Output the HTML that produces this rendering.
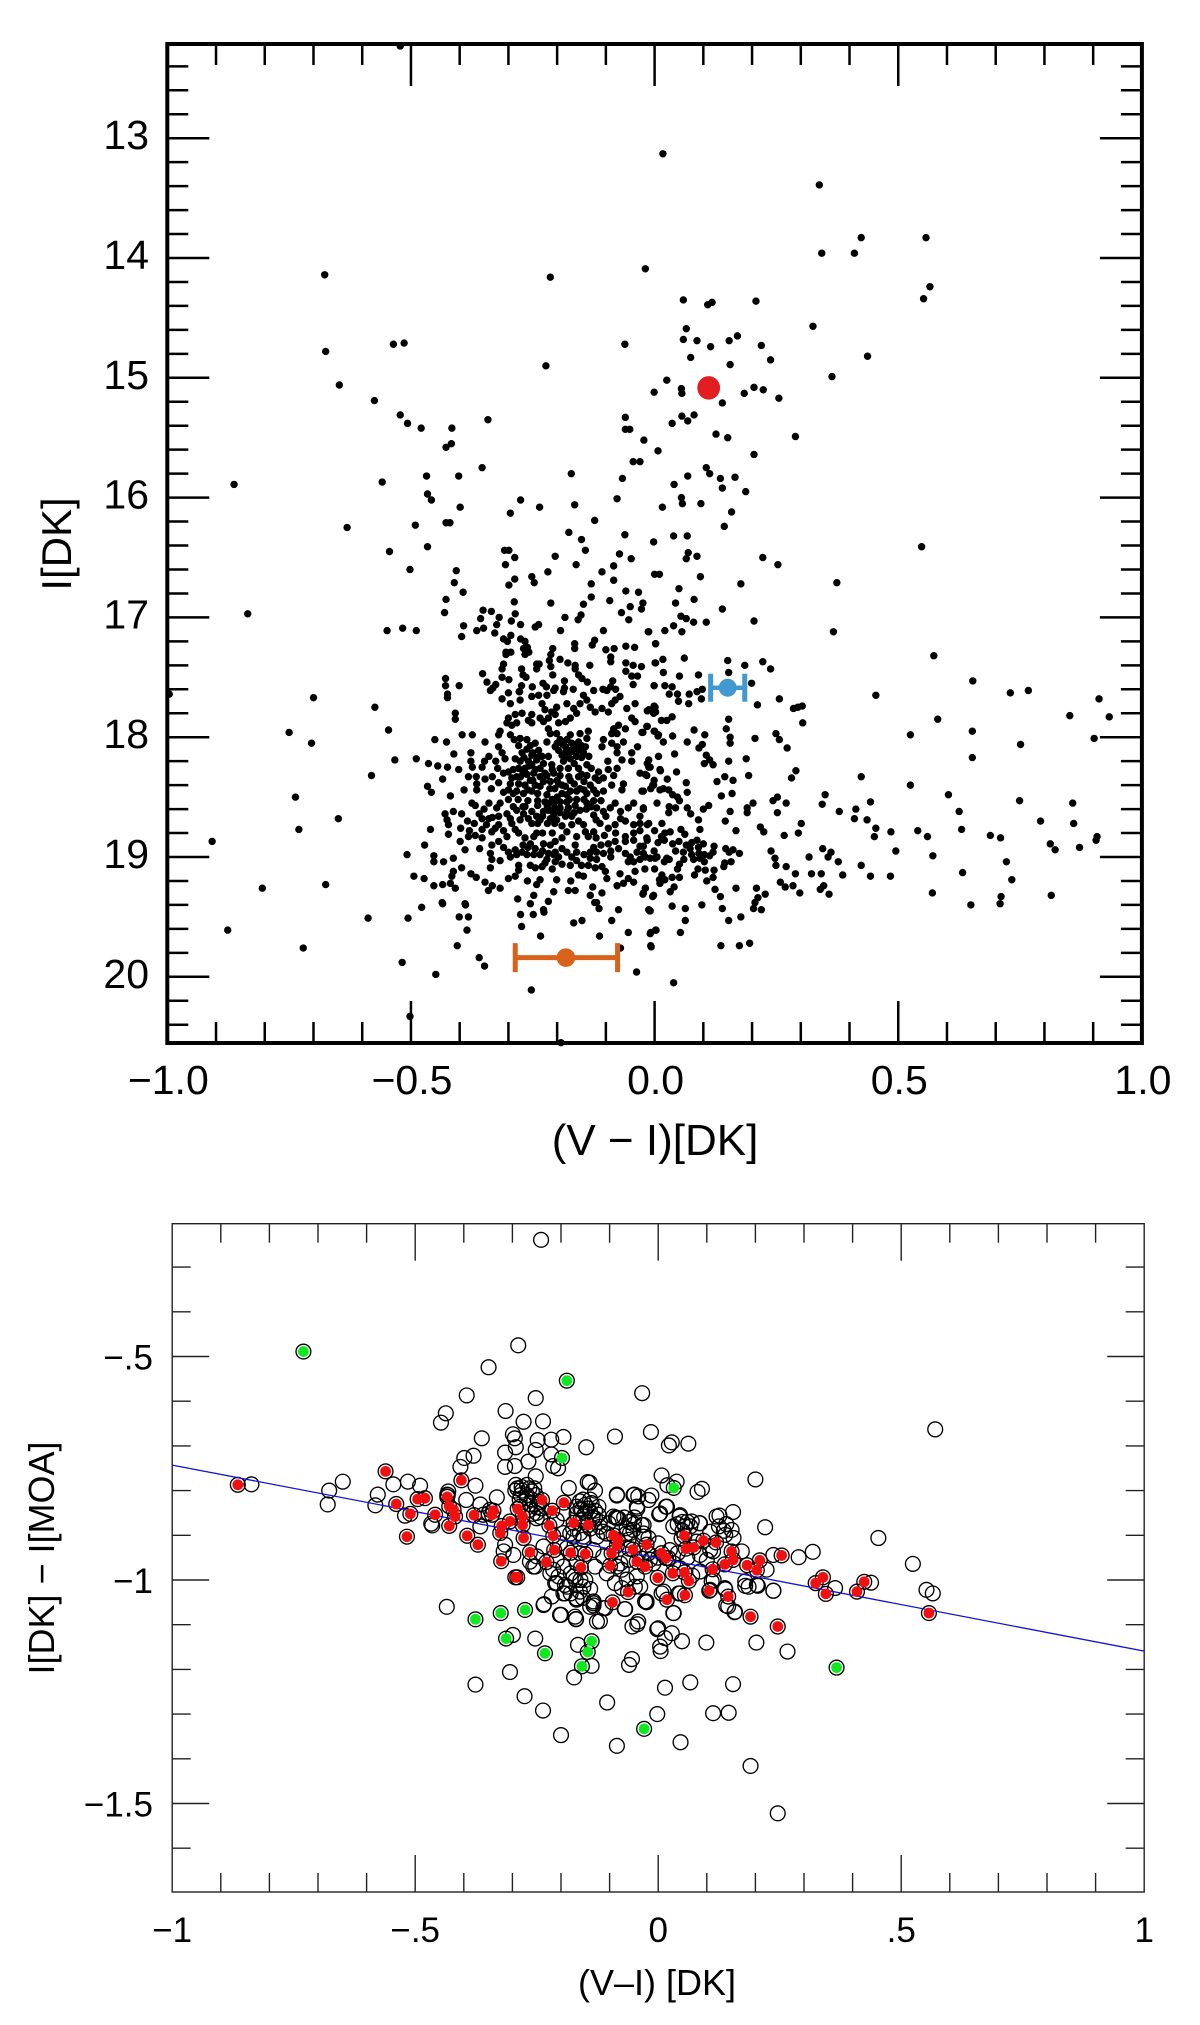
<!DOCTYPE html>
<html lang="en">
<head>
<meta charset="utf-8">
<title>Colour-magnitude diagram and calibration</title>
<style>
html,body{margin:0;padding:0;background:#fff;}
svg{display:block;}
text{font-family:"Liberation Sans",sans-serif;fill:#000;}
</style>
</head>
<body>
<svg id="figure" xmlns="http://www.w3.org/2000/svg" width="1200" height="2025" viewBox="0 0 1200 2025">
  <rect x="0" y="0" width="1200" height="2025" fill="#fff"/>
  <g id="cmd"></g>
  <g id="moa"></g>
</svg>
<script>
// ---------- top panel data: [(V-I), I] ----------
const cmdXTickValues = [-1, -0.5, 0, 0.5, 1];
const cmdXTickLabels = ['\u22121.0', '\u22120.5', '0.0', '0.5', '1.0'];
const cmdYTickValues = [13, 14, 15, 16, 17, 18, 19, 20];
const cmdYTickLabels = ['13', '14', '15', '16', '17', '18', '19', '20'];
const sourcePoint = [0.111, 15.084];
const blueCentroid = [0.150, 17.587];
const blueCentroidRange = [0.115, 0.185];
const orangeCentroid = [-0.182, 19.84];
const orangeCentroidRange = [-0.286, -0.076];
const cmdStars = [
[-.522,12.23],[-.677,14.14],[-.214,14.16],[-.536,14.72],[-.514,14.71],[-.675,14.78],[-.223,14.90],[-.647,15.06],[-.575,15.19],[-.522,15.31],[-.507,15.38],[-.479,15.42],[-.416,15.42],[-.342,15.35],[-.417,15.55],[-.428,15.58],[-.354,15.75],[-.171,15.80],[-.468,15.82],[-.402,15.82],[-.559,15.87],[-.863,15.89],[-.466,15.97],[-.458,16.02],[-.275,16.02],[-.236,16.08],[-.399,16.08],[-.164,16.06],[-.296,16.13],[-.123,16.19],[-.631,16.25],[-.491,16.23],[-.428,16.21],[-.420,16.21],[-.176,16.29],[-.150,16.35],[-.466,16.41],[-.544,16.45],[-.308,16.44],[-.299,16.44],[-.142,16.44],[-.287,16.50],[-.204,16.49],
[.017,13.13],[.338,13.39],[.424,13.83],[.557,13.83],[.343,13.96],[.410,13.96],[-.019,14.09],[.565,14.24],[.552,14.34],[.059,14.35],[.118,14.37],[.109,14.39],[.208,14.36],[.325,14.57],[.065,14.59],[.059,14.68],[.087,14.69],[.153,14.69],[.170,14.65],[-.061,14.72],[.115,14.74],[.219,14.73],[.437,14.82],[.074,14.83],[.238,14.85],[.155,14.89],[.364,14.99],[.025,15.02],[.055,15.09],[.056,15.13],[-.001,15.12],[.184,15.13],[.204,15.08],[.223,15.10],[.255,15.17],[.139,15.21],[-.060,15.33],[.056,15.32],[.081,15.31],[.068,15.36],[.036,15.38],[-.060,15.43],[-.051,15.43],[.126,15.47],[.150,15.50],[.289,15.49],[-.022,15.52],[.007,15.61],[.204,15.64],[-.044,15.70],[-.030,15.70],[.106,15.75],[.113,15.80],[.068,15.82],[.135,15.84],[.165,15.83],[-.066,15.84],[.040,15.89],[.139,15.92],[.187,15.95],[-.077,16.01],[.055,16.00],[.057,16.05],[.095,16.05],[.016,16.08],[.158,16.12],[.143,16.24],[-.061,16.31],[.039,16.32],[.067,16.32],[-.002,16.37],[.548,16.41],[.069,16.46],[.087,16.49],[-.072,16.47],[-.048,16.51],[.222,16.50],[.065,16.51],
[-.502,16.60],[-.407,16.61],[-.306,16.56],[-.219,16.62],[-.161,16.56],[-.108,16.62],[-.084,16.57],[0,16.64],[-.411,16.71],[-.287,16.68],[-.252,16.66],[-.247,16.71],[-.299,16.73],[-.130,16.72],[-.084,16.69],[-.393,16.79],[-.059,16.78],[-.033,16.79],[-.130,16.83],[-.428,16.85],[-.288,16.87],[-.213,16.88],[-.146,16.89],[-.092,16.86],[-.050,16.91],[-.024,16.88],[-.027,16.93],[-.835,16.97],[-.431,16.96],[-.352,16.94],[-.335,16.95],[-.068,16.96],[-.286,16.97],[-.319,17.00],[-.357,17.01],[-.294,17.03],[-.151,16.98],[-.157,17.02],[-.184,17.0],[-.053,17.02],[-.275,17.06],[-.392,17.07],[-.324,17.06],[-.245,17.08],[-.238,17.06],[-.351,17.09],[-.365,17.11],[-.328,17.13],[-.549,17.11],[-.517,17.09],[-.489,17.11],[-.193,17.11],[-.105,17.11],[-.012,17.12],[-.396,17.16],[-.295,17.15],[-.310,17.18],[-.302,17.20],[-.275,17.18],[-.266,17.20],[-.261,17.25],[-.123,17.19],[-.128,17.23],[-.164,17.22],[-.164,17.26],[.002,17.22],[-.059,17.24],[-.041,17.25],[-.100,17.27],[-.083,17.26],[-.209,17.26],[-.213,17.31],[-.216,17.36],[-.213,17.41],[-.305,17.29],[-.295,17.29],[-.305,17.31],[-.269,17.26],[-.258,17.29],[-.266,17.31],[-.090,17.33],[-.090,17.37],[-.194,17.35],[-.178,17.38],[-.163,17.40],[-.242,17.39],[-.237,17.39],[-.242,17.43],[-.310,17.39],[-.313,17.43],[-.059,17.38],[-.044,17.40],[-.027,17.41],[.002,17.38],[-.133,17.40],[-.059,17.45],[-.047,17.49],[-.035,17.49],[-.273,17.43],[-.270,17.48],[-.264,17.50],[-.163,17.43],[-.353,17.47],[-.209,17.48],[-.156,17.48],[-.149,17.51],[-.138,17.54],[-.429,17.51],[-.344,17.54],[-.313,17.50],[-.326,17.56],[-.299,17.52],[-.185,17.53],[-.229,17.55],[-.222,17.58],[-.204,17.59],[-.185,17.59],[-.167,17.60],[-.086,17.53],[-.044,17.56],[-.001,17.57],[-.429,17.57],[-.401,17.57],[-.273,17.57],[-.277,17.62],[-.251,17.58],[-.332,17.59],[-.106,17.60],[-.090,17.58],[-.080,17.60],[-.125,17.61],[-.700,17.67],[-.425,17.64],[-.996,17.64],
[-.750,17.96],[-.704,18.05],[-.574,17.75],[-.546,17.94],[-.451,18.02],[-.533,18.19],[-.489,18.18],[-.464,18.22],[-.445,18.24],[-.581,18.32],[-.466,18.41],[-.458,18.46],[-.737,18.50],[-.649,18.68],[-.730,18.77],[-.460,18.77],[-.472,18.90],[-.508,18.98],[-.908,18.87],[-.453,18.99],[-.453,19.04],[-.494,19.16],[-.473,19.18],[-.453,19.24],[-.675,19.23],[-.805,19.26],[-.478,19.42],[-.436,19.38],[-.506,19.51],[-.588,19.51],[-.876,19.61],[-.721,19.76],[-.518,19.88],[-.449,19.98],[-.502,20.33],
[-.388,19.40],[-.275,19.48],[-.249,19.48],[-.227,19.46],[-.401,19.50],[-.382,19.50],[-.273,19.58],[-.385,19.61],[-.166,19.55],[-.149,19.53],[-.234,19.66],[-.113,19.66],[-.088,19.53],[-.074,19.44],[-.054,19.63],[-.405,19.74],[-.360,19.84],[-.349,19.91],[-.070,19.76],[-.037,19.96],[-.253,20.11],[-.008,19.63],[.002,19.61],[-.007,19.75],[-.009,19.45],[-.114,19.43],[-.123,19.38],[-.192,20.55],
[-.425,17.67],[-.409,17.80],[-.409,17.85],[-.395,17.98],[-.374,17.98],[-.427,18.04],[-.348,18.04],[-.412,18.14],[-.377,18.13],[-.425,18.25],[-.402,18.27],[-.435,18.35],[-.377,18.20],[-.374,18.25],[-.354,18.25],[-.340,18.16],[-.349,18.20],[-.326,18.20],[-.322,18.26],[-.382,18.33],[-.366,18.33],[-.348,18.35],[-.333,18.33],[-.365,18.39],[-.365,18.44],[-.391,18.44],[-.419,18.49],[-.310,18.46],[-.337,17.61],[-.300,17.63],[-.313,17.68],[-.296,17.72],[-.276,17.69],[-.278,17.62],[-.252,17.66],[-.238,17.65],[-.221,17.65],[-.207,17.61],[-.187,17.62],[-.180,17.72],[-.231,17.72],[-.225,17.77],[-.211,17.79],[-.201,17.75],[-.204,17.81],[-.218,17.84],[-.228,17.87],[-.235,17.84],[-.252,17.81],[-.272,17.80],[-.286,17.81],[-.300,17.84],[-.303,17.88],[-.293,17.90],[-.283,17.88],[-.259,17.86],[-.252,17.88],[-.197,17.88],[-.183,17.87],[-.173,17.84],[-.160,17.80],[-.166,17.76],[-.153,17.72],[-.146,17.65],[-.139,17.69],[-.132,17.75],[-.122,17.79],[-.108,17.76],[-.095,17.79],[-.088,17.72],[-.071,17.66],[-.057,17.76],[-.040,17.72],[-.012,17.77],[.001,17.75],[-.002,17.80],[-.047,17.84],[-.040,17.87],[-.074,17.90],[-.084,17.93],[-.060,17.93],[-.088,17.97],[-.077,17.97],[-.016,17.91],[-.026,17.96],[0,17.95],[.008,17.98],[-.317,17.95],[-.320,17.98],[-.320,18.08],[-.313,18.13],[-.307,18.18],[-.286,18.18],[-.296,17.98],[-.288,18.02],[-.276,18.01],[-.279,18.07],[-.272,18.13],[-.262,18.02],[-.255,18.07],[-.245,18.05],[-.238,18.11],[-.252,18.15],[-.259,18.20],[-.276,18.20],[-.279,18.26],[-.266,18.26],[-.252,18.23],[-.242,18.19],[-.231,18.16],[-.235,18.26],[-.248,18.30],[-.218,17.93],[-.214,17.97],[-.201,17.97],[-.221,18.04],[-.194,18.02],[-.180,18.02],[-.173,17.98],[-.153,17.97],[-.136,17.95],[-.139,18.01],[-.156,18.04],[-.170,18.05],[-.183,18.08],[-.197,18.11],[-.204,18.08],[-.183,18.13],[-.170,18.12],[-.156,18.11],[-.142,18.08],[-.146,18.13],[-.160,18.16],[-.173,18.18],[-.187,18.20],[-.194,18.26],[-.211,18.23],[-.207,18.30],[-.221,18.32],[-.194,18.32],[-.177,18.26],[-.156,18.26],[-.139,18.23],[-.105,18.02],[-.108,18.08],[-.088,18.05],[-.077,18.08],[-.064,18.04],[-.077,18.13],[-.047,18.13],[-.035,18.08],[-.012,18.19],[-.009,18.25],[-.047,18.20],[-.067,18.19],[-.096,18.20],[-.095,18.27],[-.077,18.26],[-.084,18.32],[-.115,18.29],[-.105,18.34],[-.139,18.32],[-.122,18.34],[-.132,18.40],[-.156,18.33],[-.173,18.36],[-.183,18.41],[-.197,18.39],[-.214,18.37],[-.228,18.37],[-.235,18.41],[-.255,18.36],[-.245,18.40],[-.266,18.40],[-.279,18.39],[-.300,18.29],[-.293,18.34],[-.283,18.33],[-.296,18.39],[-.283,18.45],[-.269,18.47],[-.252,18.45],[-.221,18.48],[-.190,18.47],[-.173,18.45],[-.153,18.43],[-.139,18.47],[-.119,18.47],[-.105,18.45],[-.088,18.40],[-.064,18.39],[-.067,18.44],[-.030,18.30],[-.016,18.32],[.011,18.27],[-.002,18.40],[-.026,18.45],[.011,18.44],[-.098,17.61],[-.081,17.69],
[-.430,18.64],[-.413,18.62],[-.426,18.69],[-.423,18.73],[-.396,18.64],[-.384,18.70],[-.398,18.76],[-.354,18.68],[-.333,18.67],[-.423,18.81],[-.354,18.77],[-.327,18.76],[-.334,18.79],[-.399,18.87],[-.389,18.94],[-.359,18.93],[-.382,18.83],[-.368,18.82],[-.354,18.84],[-.303,18.83],[-.320,18.87],[-.334,18.90],[-.337,18.97],[-.334,19.02],[-.337,19.09],[-.317,19.03],[-.433,19.04],[-.413,19.01],[-.396,19.09],[-.413,19.12],[-.416,19.16],[-.377,19.14],[-.366,19.17],[-.348,19.21],[-.333,19.24],[-.341,19.28],[-.317,19.26],[-.435,19.23],[-.409,19.26],[-.419,19.22],[-.435,19.39],[-.389,19.39],[-.281,19.35],[-.300,19.18],[-.286,19.16],[-.279,19.07],[-.279,19.11],[-.261,19.20],[-.235,19.19],[-.242,19.23],[-.248,19.32],[-.201,19.19],[-.207,19.29],[-.218,19.37],[-.172,19.20],[-.177,19.28],[-.163,19.28],[-.127,19.25],[-.132,19.32],[-.108,19.30],[-.098,19.18],[-.071,19.14],[-.054,19.18],[-.043,19.21],[-.077,19.24],[-.064,19.22],[-.019,19.26],[-.023,19.30],[-.002,19.32],[-.012,19.44],[.011,19.22],[-.119,19.38],[-.255,19.39],[-.228,19.44],
[-.375,18.55],[-.368,18.57],[-.317,18.55],[-.324,18.59],[-.303,18.64],[-.296,18.68],[-.293,18.72],[-.286,18.77],[-.279,18.80],[-.276,18.69],[-.283,18.61],[-.269,18.64],[-.266,18.58],[-.252,18.62],[-.259,18.68],[-.252,18.72],[-.242,18.66],[-.235,18.69],[-.228,18.62],[-.218,18.61],[-.207,18.64],[-.194,18.59],[-.177,18.59],[-.163,18.57],[-.153,18.61],[-.139,18.55],[-.125,18.65],[-.156,18.70],[-.170,18.66],[-.183,18.66],[-.201,18.69],[-.214,18.68],[-.221,18.55],[-.207,18.55],[-.194,18.54],[-.180,18.54],[-.119,18.59],[-.105,18.62],[-.091,18.59],[-.081,18.55],[-.054,18.59],[-.043,18.55],[-.023,18.59],[-.146,18.73],[-.112,18.72],[-.142,18.79],[-.125,18.79],[-.136,18.83],[-.081,18.73],[-.095,18.76],[-.043,18.73],[-.030,18.72],[-.012,18.72],[-.103,18.82],[-.242,18.80],[-.248,18.83],[-.266,18.84],[-.255,18.89],[-.245,18.93],[-.204,18.87],[-.214,18.90],[-.228,18.89],[-.204,18.96],[-.190,18.93],[-.180,18.96],[-.163,18.90],[-.160,18.96],[-.170,19.00],[-.173,19.07],[-.197,19.00],[-.207,18.98],[-.218,18.97],[-.235,18.98],[-.248,18.98],[-.272,18.96],[-.286,18.94],[-.296,19.00],[-.283,18.98],[-.262,18.98],[-.221,19.02],[-.231,19.08],[-.245,19.09],[-.255,19.07],[-.204,19.04],[-.132,18.96],[-.119,18.96],[-.105,18.97],[-.132,19.01],[-.119,19.02],[-.136,19.07],[-.122,19.09],[-.108,19.08],[-.101,19.12],[-.095,18.89],[-.081,18.87],[-.074,18.93],[-.060,18.83],[-.060,18.87],[-.043,18.80],[-.043,18.86],[-.016,18.84],[-.030,18.91],[-.036,18.96],[-.023,18.97],[.005,19.00],[-.009,19.01],[-.050,19.00],[-.043,19.04],[-.054,19.04],[-.156,19.15],[-.146,19.16],
[.253,16.56],[.010,16.64],[.094,16.66],[.374,16.71],[.177,16.72],[.050,16.76],[.043,16.88],[.081,16.85],[.139,16.93],[.054,16.99],[.065,17.01],[.080,17.04],[.106,17.04],[.204,17.03],[.039,17.07],[.056,17.12],[.021,17.11],[-.013,17.12],[.367,17.12],[.002,17.22],[.573,17.32],[.061,17.34],[.017,17.35],[.001,17.38],[.150,17.36],[.222,17.37],[.185,17.40],[.238,17.43],[.152,17.46],[.018,17.46],[.051,17.49],[.090,17.48],[.653,17.53],[.199,17.55],[-.001,17.57],[.021,17.57],[.036,17.58],[.730,17.63],[.767,17.61],[.454,17.65],[.030,17.64],[.047,17.64],[.071,17.64],[.087,17.62],[.098,17.60],[.096,17.68],[.256,17.68],[.912,17.68],[.049,17.70],[.070,17.72],[.211,17.73],[.285,17.76],[.294,17.75],[.303,17.74],[-.001,17.74],[-.015,17.78],[.002,17.79],[.152,17.85],[.852,17.82],[.933,17.83],[.581,17.85],[.036,17.83],[.025,17.86],[.014,17.86],[.304,17.88],[-.015,17.91],[-.024,17.96],[-.001,17.95],[.007,17.99],[.081,17.94],[.147,17.93],[.249,17.97],[.256,18.02],[.103,17.98],[.037,17.99],[.652,17.95],[.525,17.98],[.206,18.01],[.155,18.0],[.155,18.05],[.902,18.01],[.018,18.04],[.067,18.04],[.098,18.06],[.091,18.09],[.751,18.06],[.272,18.09],[.008,18.16],[.041,18.14],[.106,18.15],[.113,18.19],[.188,18.18],[.152,18.20],[.652,18.17],[.102,18.22],[.120,18.23],[-.015,18.22],[-.012,18.25],[.012,18.28],[.290,18.28],[.045,18.29],[.281,18.34],[.144,18.33],[.193,18.32],[.424,18.33],[-.019,18.31],[.026,18.35],[.161,18.36],[.128,18.37],[.065,18.38],[-.001,18.36],[-.004,18.40],[-.008,18.43],[.525,18.40],[.018,18.43],[.029,18.44],[.037,18.48],[.047,18.50],[.067,18.46],[-.023,18.45],[.159,18.47],[.137,18.49],[.603,18.48],[.350,18.48],[.252,18.50],[.243,18.53],[.005,18.55],[.051,18.53],[.030,18.58],[.043,18.59],[.029,18.63],[.067,18.59],[.074,18.64],[.111,18.57],[.100,18.60],[.202,18.55],[.190,18.59],[.190,18.63],[.155,18.62],[.270,18.55],[.344,18.56],[.252,18.63],[.443,18.54],[.413,18.60],[.379,18.62],[.625,18.62],[.749,18.53],[.858,18.55],[.410,18.68],[.436,18.69],[.792,18.70],[.860,18.72],[-.023,18.60],[.090,18.69],[.145,18.70],[.301,18.72],[.015,18.72],[-.015,18.73],[.454,18.76],[.630,18.77],[.217,18.75],[.224,18.79],[.167,18.78],[.021,18.80],[.032,18.79],[.014,18.83],[.054,18.77],[.062,18.81],[.093,18.77],[.295,18.80],[.266,18.82],[.485,18.79],[.540,18.78],[.451,18.83],[.560,18.83],[.689,18.82],[.710,18.84],[.908,18.83],[.906,18.86],[.007,18.88],[-.015,18.86],[-.023,18.91],[.037,18.89],[.065,18.90],[.076,18.88],[.087,18.86],[.100,18.89],[.122,18.91],[.812,18.89],[.822,18.94],[.872,18.92],[.345,18.93],[.495,18.95],[.146,18.93],[.161,18.94],[.153,18.96],[.239,18.95],[.174,18.97],[.362,18.96],[.356,19.0],[.571,18.99],[.059,18.96],[.043,18.95],[-.001,18.95],[-.019,19.0],[.001,19.01],[.076,18.98],[.091,18.97],[.102,18.98],[.073,18.93],[.113,18.99],[.247,19.01],[.249,19.07],[.317,19.0],[.093,19.01],[.102,19.04],[.025,19.01],[.020,19.04],[.377,19.04],[.144,19.05],[.157,19.04],[.142,19.08],[.722,19.04],[.051,19.06],[.047,19.10],[.424,19.07],[.270,19.08],[.122,19.11],[.104,19.11],[.089,19.10],[.289,19.14],[.322,19.14],[.342,19.14],[.386,19.15],[.443,19.16],[.484,19.16],[.632,19.13],[.051,19.17],[.036,19.17],[.015,19.15],[.082,19.15],[.120,19.17],[.107,19.20],[.010,19.19],[.021,19.19],[.733,19.19],[.258,19.21],[.268,19.25],[.284,19.24],[.347,19.24],[.340,19.27],[.167,19.26],[.209,19.26],[.124,19.27],[.040,19.25],[.032,19.29],[-.019,19.26],[-.024,19.31],[-.004,19.33],[.298,19.30],[.358,19.31],[.570,19.30],[.814,19.32],[.135,19.33],[.227,19.31],[.212,19.34],[.206,19.38],[.711,19.33],[.709,19.39],[.649,19.40],[.036,19.41],[.097,19.40],[.063,19.43],[.139,19.43],[.203,19.43],[.219,19.44],[-.010,19.45],[.177,19.50],[.152,19.53],[.063,19.53],[.053,19.63],[.003,19.61],[-.009,19.64],[-.008,19.74],[.136,19.74],[.174,19.74],[.195,19.72],[.039,20.05]
];
const cmdCoreStars = [
[-.262,18.10],[-.25,18.13],[-.24,18.17],[-.268,18.17],[-.258,18.24],[-.245,18.27],[-.235,18.33],[-.25,18.36],[-.262,18.31],[-.27,18.29],[-.225,18.30],[-.228,18.22],[-.218,18.16],[-.21,18.27],[-.2,18.36],[-.205,18.43],[-.19,18.40],[-.176,18.33],[-.165,18.39],[-.145,18.37],[-.15,18.31],[-.165,18.22],[-.178,18.16],[-.19,18.15],[-.2,18.05],[-.188,18.06],[-.175,18.11],[-.165,18.08],[-.15,18.07],[-.15,18.17],[-.135,18.16],[-.13,18.26],[-.115,18.36],[-.125,18.44],[-.145,18.44],[-.16,18.45],[-.18,18.48],[-.2,18.5],[-.215,18.43],[-.24,18.47],[-.26,18.44],[-.275,18.33],[-.29,18.27],[-.31,18.30],[-.32,18.38],[-.335,18.43],[-.29,18.47],[-.3,18.44],
[-.24,18.53],[-.225,18.54],[-.21,18.52],[-.175,18.52],[-.16,18.52],[-.145,18.52],[-.125,18.53],[-.11,18.53],[-.26,18.53],[-.28,18.52],[-.30,18.52],[-.24,18.57],[-.22,18.58],[-.205,18.59],[-.18,18.62],[-.165,18.63],[-.14,18.6],[-.13,18.58],[-.195,18.63],[-.23,18.66],[-.27,18.58],[-.29,18.58],[-.24,18.72],[-.22,18.72],[-.205,18.72],[-.19,18.74],[-.17,18.73],[-.12,18.69],[-.1,18.66],[-.07,18.62],[-.07,18.68],[-.06,18.7],[-.03,18.66],[-.03,18.78],[-.18,18.79],[-.21,18.80],[-.23,18.8],[-.12,18.84],[-.16,18.83],[-.19,18.84],[-.08,18.8],[-.34,18.55],[-.35,18.6],[-.36,18.64],[-.34,18.68],[-.32,18.66],[-.32,18.73],[-.31,18.78],[-.345,18.73],[-.37,18.72],[-.38,18.78],
[-.3,18.96],[-.31,18.92],[-.27,18.90],[-.26,18.92],[-.23,18.95],[-.225,19.05],[-.21,19.1],[-.19,19.06],[-.16,19.03],[-.15,19.07],[-.145,18.98],[-.125,18.92],[-.11,18.9],[-.09,18.95],[-.09,19.0],[-.06,18.97],[-.03,19.02],[-.02,19.1],[-.04,19.12],[0,19.1],[.03,19.02],[.06,19.02],[.08,19.02],[0,18.78],[.02,18.86],[.05,18.87],[.09,18.92],[.12,18.96]
];

// ---------- bottom panel data: [(V-I), I[DK]-I[MOA]] ----------
const moaXTickValues = [-1, -0.5, 0, 0.5, 1];
const moaXTickLabels = ['\u22121', '\u2212.5', '0', '.5', '1'];
const moaYTickValues = [-0.5, -1, -1.5];
const moaYTickLabels = ['\u2212.5', '\u22121', '\u22121.5'];
const fitLineX = [-1, 1];
const fitLineY = [-0.743, -1.159];
const moaOpen = [
[-.241,-.239],[-.288,-.475],[-.349,-.524],[-.394,-.587],[-.252,-.593],[-.314,-.622],[-.437,-.627],[-.447,-.648],[-.277,-.646],[-.237,-.645],[-.363,-.683],[-.299,-.674],[-.295,-.683],[-.248,-.687],[-.220,-.686],[-.195,-.680],[-.148,-.703],[-.315,-.715],[-.293,-.703],[-.252,-.709],[-.220,-.719],[-.267,-.735],[-.380,-.722],[-.399,-.727],[-.407,-.747],[-.315,-.747],[-.295,-.745],[-.216,-.745],[-.206,-.750],[-.252,-.768],[-.515,-.780],[-.545,-.786],[-.649,-.780],[-.837,-.786],[-.677,-.800],[-.680,-.831],[-.577,-.809],[-.582,-.833],[-.490,-.789],[-.376,-.789],[-.184,-.794],[-.141,-.782],[-.435,-1.060],[-.235,-1.054],[-.200,-1.078],[-.169,-1.087],[-.133,-1.057],[-.299,-1.123],[-.253,-1.131],[-.165,-1.145],[-.137,-1.192],[-.305,-1.206],[-.173,-1.218],[-.376,-1.234],[-.275,-1.260],[-.237,-1.292],[-.200,-1.347],[-.521,-.856],[-.467,-.874],[-.465,-.878],[-.434,-.809],[-.395,-.821],[-.332,-.815],[-.366,-.831],
[-.033,-.582],[-.089,-.679],[-.015,-.669],[.028,-.692],[.022,-.699],[.062,-.695],[.570,-.663],[.007,-.766],[.038,-.780],[.019,-.788],[.200,-.775],[.081,-.803],[.090,-.796],[-.085,-.811],[-.049,-.809],[-.014,-.811],[.016,-.836],[-.043,-.840],[.002,-.853],[-.049,-.860],[-.087,-.860],[.044,-.858],[.126,-.856],[.154,-.848],[.085,-.873],[.220,-.882],[.453,-.906],[.318,-.937],[.289,-.949],[.524,-.964],[.552,-1.022],[.565,-1.030],[.438,-1.006],[.364,-1.018],[.237,-1.024],[.205,-1.013],[.179,-1.013],[.138,-1.021],[-.024,-1.050],[-.069,-1.065],[.140,-1.057],[.157,-1.072],[.032,-1.074],[-.053,-1.104],[-.043,-1.099],[-.002,-1.110],[.028,-1.119],[.014,-1.130],[.049,-1.137],[.099,-1.140],[.202,-1.140],[.266,-1.160],[.005,-1.159],[-.054,-1.177],[-.060,-1.190],[.066,-1.229],[.154,-1.233],[.014,-1.241],[-.105,-1.274],[-.002,-1.300],[.113,-1.298],[.145,-1.297],[.046,-1.363],[-.085,-1.371],[.190,-1.416],[.246,-1.522],[-.120,-1.092],
[-.433,-.810],[-.432,-.802],[-.366,-.880],[-.360,-.854],[-.349,-.851],[-.315,-.921],[-.298,-.944],[-.318,-.936],[-.293,-.787],[-.281,-.792],[-.270,-.787],[-.294,-.800],[-.260,-.802],[-.283,-.810],[-.270,-.817],[-.252,-.810],[-.264,-.830],[-.250,-.837],[-.258,-.852],[-.242,-.859],[-.145,-.781],[-.130,-.800],[-.161,-.824],[-.150,-.832],[-.168,-.836],[-.137,-.828],[-.123,-.836],[-.157,-.843],[-.140,-.847],[-.168,-.851],[-.123,-.854],[-.154,-.858],[-.130,-.862],[-.085,-.809],[-.051,-.810],[-.041,-.813],[-.020,-.821],[-.082,-.862],[-.102,-.873],[-.065,-.884],[-.034,-.877],[-.058,-.895],[-.030,-.903],
[-.195,-.895],[-.174,-.903],[-.154,-.910],[-.126,-.903],[-.113,-.892],[-.161,-.895],[-.202,-.918],[-.188,-.929],[-.161,-.940],[-.133,-.933],[-.113,-.947],[-.209,-.955],[-.236,-.925],[-.250,-.947],[-.257,-.970],[-.216,-.977],[-.195,-.970],[-.168,-.962],[-.130,-.970],[-.106,-.985],[-.075,-.977],[-.044,-.992],[-.065,-.999],[-.089,-1.007],[-.075,-1.018],[-.037,-1.015],[-.027,-1.048],[-.068,-1.065],[-.109,-1.063],[-.133,-1.052],[-.154,-1.015],[-.161,-1.026],[-.188,-1.015],[-.209,-1.007],[-.195,-1.030],[-.168,-1.044],[-.236,-1.056],[-.202,-1.078],[-.171,-1.082],[-.222,-.985],[-.205,-.992],[-.174,-.992],
[-.264,-.959],[-.253,-.970],[-.212,-1.007],[-.192,-1.011],[-.133,-1.048],[-.168,-1.041],[-.192,-1.030],[-.219,-1.037],[-.169,-1.088],[-.126,-1.093],[-.113,-1.063],[-.140,-1.060],[-.048,-1.015],[.007,-1.030],[.042,-1.030],[-.041,-1.093],[0,-1.108],[.004,-1.149],[-.078,-.963],[-.061,-.955],[-.034,-.952],[-.085,-.970],[-.092,-.858],[-.085,-.862],[-.044,-.836],[-.030,-.877],[.004,-.851],[.018,-.836],[.045,-.855],[.069,-.869],[.086,-.873],[.120,-.858],[.048,-.907],[.079,-.914],[.107,-.933],[.100,-.955],[.114,-1.0],[.107,-1.022],[.045,-.974],[.021,-.951],[-.010,-.963],[-.065,-.896],[-.051,-.888],[-.061,-.910],[-.030,-.896],[-.120,-.881],[-.106,-.896],[-.154,-.903],[-.181,-.896],[-.209,-.866],[-.195,-.851],[-.250,-.862],[-.264,-.843],[-.284,-.836],[-.346,-.843],
[.031,-.880],[.066,-.880],[.107,-.892],[.138,-.899],[.151,-.888],[.155,-.906],[.172,-.936],[.237,-.944],[.223,-.977],[-.020,-.906],[0,-.918],[.024,-.933],[.086,-.944],[.113,-.936],[-.017,-.955],[.031,-.962],[.086,-.981],[.110,-1.003],[.179,-1.003],[.186,-1.015],[.203,-1.011],[.237,-1.024],[.137,-1.018],[.144,-1.059],[.158,-1.071],[.011,-1.026],[.045,-1.030],[-.024,-1.048],[.031,-1.074],
[-.28,-.80],[-.285,-.82],[-.27,-.81],[-.265,-.795],[-.255,-.795],[-.29,-.795],[-.26,-.82],[-.245,-.825],[-.25,-.85],[-.24,-.84],[-.155,-.82],[-.16,-.84],[-.145,-.84],[-.14,-.82],[-.13,-.845],[-.15,-.85],[-.135,-.86],[-.16,-.865],[-.175,-.885],[-.14,-.885],[-.12,-.87],[.05,-.87],[.055,-.88],[.06,-.87],[.05,-.89],[.04,-.875],[.125,-.88],[.135,-.89],[.14,-.875],[-.07,-.86],[-.06,-.87],[-.05,-.875],[-.17,-1.0],[-.16,-1.0],[-.18,-.985],[-.15,-1.0],[-.14,-1.02],[-.18,-1.03],[-.155,-1.04],[-.06,-.93],[-.04,-.94],[-.02,-.94],[0,-.95],[.04,-.94],[.06,-.95],[.07,-.99]
];
const moaRed = [
[-.865,-.787],[-.561,-.757],[-.539,-.830],[-.510,-.852],[-.495,-.819],[-.480,-.817],[-.517,-.903],[-.459,-.854],[-.434,-.814],[-.430,-.835],[-.421,-.843],[-.418,-.858],[-.430,-.879],[-.405,-.777],[-.379,-.855],[-.393,-.901],[-.371,-.921],[-.339,-.845],[-.342,-.854],[-.322,-.879],[-.305,-.869],[-.325,-.895],[-.289,-.841],[-.279,-.858],[-.279,-.877],[-.277,-.906],[-.323,-.958],[-.294,-.994],[-.290,-.994],[-.239,-.821],[-.218,-.845],[-.194,-.827],[-.224,-.878],[-.216,-.901],[-.214,-.933],[-.264,-.938],[-.230,-.960],[-.180,-.939],[-.174,-.872],[-.144,-.877],[-.150,-.942],[-.159,-.972],[-.092,-.900],[-.083,-.910],[-.085,-.923],[-.096,-.940],[-.052,-.932],[-.024,-.921],[-.099,-.968],[-.044,-.959],[-.027,-.970],[-.062,-1.027],[-.094,-1.050],
[.007,-.940],[.016,-.951],[-.001,-.995],[.030,-.985],[.054,-.901],[.057,-.930],[.073,-.927],[.093,-.912],[.119,-.916],[.054,-.983],[.063,-1.002],[.112,-.976],[.105,-1.024],[.055,-1.034],[.018,-1.044],[.144,-1.037],[.151,-.936],[.154,-.955],[.137,-.965],[.183,-.967],[.203,-.978],[.209,-.956],[.254,-.945],[.190,-1.082],[.324,-1.007],[.339,-.994],[.345,-1.031],[.409,-1.026],[.424,-1.004],[.557,-1.074],[.246,-1.104]
];
const moaGreen = [
[-.730,-.489],[-.188,-.554],[-.198,-.727],[-.376,-1.088],[-.324,-1.074],[-.274,-1.067],[-.313,-1.131],[-.233,-1.164],[-.137,-1.137],[-.145,-1.161],[-.157,-1.193],[.032,-.794],[.367,-1.196],[-.029,-1.333]
];

// ---------- axes ----------
const NS = 'http://www.w3.org/2000/svg';
function cmdX(v){ return 654.6 + 487.3 * v; }
function cmdY(m){ return 138.2 + 119.8 * (m - 13); }
function moaX(v){ return 658.2 + 486 * v; }
function moaY(d){ return 1580 + 447 * (-1 - d); }

function make(parent, tag, attrs){
  const el = document.createElementNS(NS, tag);
  for (const k in attrs) el.setAttribute(k, attrs[k]);
  parent.appendChild(el);
  return el;
}
function line(parent, x1, y1, x2, y2, stroke, width){
  return make(parent, 'line', {x1:x1, y1:y1, x2:x2, y2:y2, stroke:stroke, 'stroke-width':width});
}

// ---------- top panel ----------
const cmd = document.getElementById('cmd');
const cmdLeft = cmdX(-1), cmdRight = cmdX(1), cmdTop = 44, cmdBottom = 1043;

const cmdPoints = make(cmd, 'g', {fill:'#000'});


cmdStars.concat(cmdCoreStars).forEach(function(p){
  const el = make(cmdPoints, 'circle', {cx:cmdX(p[0]), cy:cmdY(p[1]), r:3.7});
  
  
});

for (let i = -9; i <= 9; i++) {
  if (i % 5 === 0) continue;
  const x = cmdX(i / 10);
  const t1 = line(cmd, x, cmdTop, x, cmdTop + 21, '#000', 2.5);
  
  
  const t2 = line(cmd, x, cmdBottom, x, cmdBottom - 21, '#000', 2.5);
  
  
}
cmdXTickValues.forEach(function(v, i){
  const x = cmdX(v);
  if (i > 0 && i < cmdXTickValues.length - 1) {
    const t1 = line(cmd, x, cmdTop, x, cmdTop + 42, '#000', 2.5);
    
    
    const t2 = line(cmd, x, cmdBottom, x, cmdBottom - 42, '#000', 2.5);
    
    
  }
  const lab = make(cmd, 'text', {x:x + 1, y:1094, 'text-anchor':'middle', 'font-size':41});
  lab.textContent = cmdXTickLabels[i];
  
  
});
for (let i = 62; i <= 102; i++) {
  const m = i / 5;
  if (i % 5 === 0) continue;
  const y = cmdY(m);
  const t1 = line(cmd, cmdLeft, y, cmdLeft + 21, y, '#000', 2.5);
  
  
  const t2 = line(cmd, cmdRight, y, cmdRight - 21, y, '#000', 2.5);
  
  
}
cmdYTickValues.forEach(function(m, i){
  const y = cmdY(m);
  const t1 = line(cmd, cmdLeft, y, cmdLeft + 42, y, '#000', 2.5);
  
  
  const t2 = line(cmd, cmdRight, y, cmdRight - 42, y, '#000', 2.5);
  
  
  const lab = make(cmd, 'text', {x:149, y:y + 11, 'text-anchor':'end', 'font-size':41});
  lab.textContent = cmdYTickLabels[i];
  
  
});

const cmdFrame = make(cmd, 'rect', {x:cmdLeft, y:cmdTop, width:cmdRight - cmdLeft, height:cmdBottom - cmdTop, fill:'none', stroke:'#000', 'stroke-width':4});



function errorMarker(center, range, color, name, capHeight, radius, barWidth){
  const g = make(cmd, 'g', {fill:color, stroke:'none'});
  
  
  const y = cmdY(center[1]);
  line(g, cmdX(range[0]), y, cmdX(range[1]), y, color, barWidth);
  line(g, cmdX(range[0]), y - capHeight / 2, cmdX(range[0]), y + capHeight / 2, color, 5);
  line(g, cmdX(range[1]), y - capHeight / 2, cmdX(range[1]), y + capHeight / 2, color, 5);
  make(g, 'circle', {cx:cmdX(center[0]), cy:y, r:radius});
}
errorMarker(blueCentroid, blueCentroidRange, '#4199cf', 'blue-centroid-marker', 28, 9, 4.5);
errorMarker(orangeCentroid, orangeCentroidRange, '#d9621a', 'orange-centroid-marker', 29, 9.3, 5);

const src = make(cmd, 'ellipse', {cx:cmdX(sourcePoint[0]), cy:cmdY(sourcePoint[1]), rx:11.4, ry:11.8, fill:'#e41e20'});



const cmdXTitle = make(cmd, 'text', {x:655, y:1155, 'text-anchor':'middle', 'font-size':44});
cmdXTitle.textContent = '(V \u2212 I)[DK]';


const cmdYTitle = make(cmd, 'text', {transform:'translate(71 544) rotate(-90)', x:0, y:0, 'text-anchor':'middle', 'font-size':42});
cmdYTitle.textContent = 'I[DK]';



// ---------- bottom panel ----------
const moa = document.getElementById('moa');
const moaLeft = moaX(-1), moaRight = moaX(1), moaTop = 1223.7, moaBottom = 1892;
const moaTick = '#222';

for (let i = -9; i <= 9; i++) {
  const major = i % 5 === 0;
  const x = moaX(i / 10);
  const len = major ? 37 : 19;
  const t1 = line(moa, x, moaTop, x, moaTop + len, moaTick, 1.4);
  
  
  const t2 = line(moa, x, moaBottom, x, moaBottom - len, moaTick, 1.4);
  
  
}
for (let i = 3; i <= 16; i++) {
  const major = i % 5 === 0;
  const y = moaY(-i / 10);
  const len = major ? 37 : 18.5;
  const t1 = line(moa, moaLeft, y, moaLeft + len, y, moaTick, 1.4);
  
  
  const t2 = line(moa, moaRight, y, moaRight - len, y, moaTick, 1.4);
  
  
}
moaXTickValues.forEach(function(v, i){
  const lab = make(moa, 'text', {x:moaX(v), y:1942, 'text-anchor':'middle', 'font-size':35});
  lab.textContent = moaXTickLabels[i];
  
  
});
moaYTickValues.forEach(function(d, i){
  const lab = make(moa, 'text', {x:153, y:moaY(d) + 13, 'text-anchor':'end', 'font-size':35});
  lab.textContent = moaYTickLabels[i];
  
  
});

const moaFrame = make(moa, 'rect', {x:moaLeft, y:moaTop, width:moaRight - moaLeft, height:moaBottom - moaTop, fill:'none', stroke:'#222', 'stroke-width':1.4});



const rings = make(moa, 'g', {fill:'none', stroke:'#000', 'stroke-width':1.35});


moaOpen.concat(moaRed, moaGreen).forEach(function(p){
  const el = make(rings, 'circle', {cx:moaX(p[0]), cy:moaY(p[1]), r:7.4});
  
  
});

const fit = make(moa, 'line', {x1:moaX(fitLineX[0]), y1:moaY(fitLineY[0]), x2:moaX(fitLineX[1]), y2:moaY(fitLineY[1]), stroke:'#1414d2', 'stroke-width':1.3});



moaRed.forEach(function(p){
  const el = make(moa, 'circle', {cx:moaX(p[0]), cy:moaY(p[1]), r:5.4, fill:'#f01010'});
  
  
});
moaGreen.forEach(function(p){
  const el = make(moa, 'circle', {cx:moaX(p[0]), cy:moaY(p[1]), r:5.4, fill:'#10e820'});
  
  
});

const moaXTitle = make(moa, 'text', {x:657, y:1995, 'text-anchor':'middle', 'font-size':36});
moaXTitle.textContent = '(V\u2013I) [DK]';


const moaYTitle = make(moa, 'text', {transform:'translate(54 1558) rotate(-90)', x:0, y:0, 'text-anchor':'middle', 'font-size':36});
moaYTitle.textContent = 'I[DK] \u2212 I[MOA]';


</script>
</body>
</html>
